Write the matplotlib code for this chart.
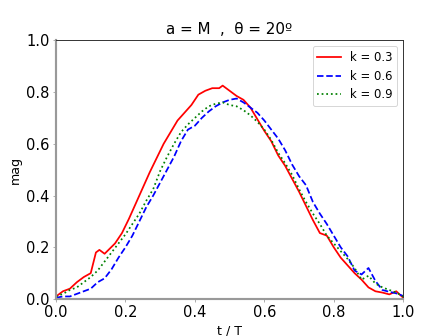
import matplotlib
matplotlib.use('Agg')
import matplotlib.pyplot as plt

# curves (t/T, mag)
t_k03 = [0.00, 0.02, 0.04, 0.06, 0.08, 0.10, 0.115, 0.125, 0.14, 0.155, 0.17,
         0.19, 0.21, 0.23, 0.25, 0.27, 0.29, 0.31, 0.33, 0.35, 0.37, 0.39,
         0.41, 0.43, 0.45, 0.47, 0.48, 0.50, 0.52, 0.54, 0.56, 0.58, 0.60,
         0.62, 0.64, 0.66, 0.68, 0.70, 0.72, 0.74, 0.76, 0.78, 0.80, 0.82,
         0.84, 0.86, 0.88, 0.90, 0.92, 0.94, 0.96, 0.98, 1.00]
mag_k03 = [0.010, 0.030, 0.040, 0.065, 0.085, 0.100, 0.180, 0.190, 0.175, 0.195, 0.215,
           0.255, 0.310, 0.370, 0.430, 0.490, 0.545, 0.600, 0.645, 0.690, 0.720, 0.750,
           0.790, 0.805, 0.815, 0.815, 0.825, 0.805, 0.785, 0.770, 0.740, 0.695, 0.650,
           0.610, 0.555, 0.515, 0.465, 0.415, 0.360, 0.305, 0.255, 0.245, 0.200, 0.160,
           0.130, 0.100, 0.075, 0.045, 0.030, 0.025, 0.018, 0.030, 0.005]

t_k06 = [0.00, 0.02, 0.04, 0.06, 0.08, 0.10, 0.12, 0.14, 0.16, 0.18, 0.20,
         0.22, 0.24, 0.26, 0.28, 0.30, 0.32, 0.34, 0.36, 0.38, 0.40, 0.42,
         0.44, 0.46, 0.48, 0.50, 0.52, 0.54, 0.56, 0.58, 0.60, 0.62, 0.64,
         0.66, 0.68, 0.70, 0.72, 0.74, 0.76, 0.78, 0.80, 0.82, 0.84, 0.86,
         0.88, 0.90, 0.92, 0.94, 0.96, 0.98, 1.00]
mag_k06 = [0.005, 0.010, 0.010, 0.020, 0.030, 0.040, 0.065, 0.080, 0.115, 0.160, 0.200,
           0.245, 0.300, 0.355, 0.400, 0.450, 0.500, 0.550, 0.610, 0.655, 0.670, 0.700,
           0.725, 0.745, 0.760, 0.770, 0.775, 0.760, 0.740, 0.720, 0.690, 0.655, 0.620,
           0.575, 0.520, 0.475, 0.440, 0.375, 0.330, 0.290, 0.245, 0.200, 0.165, 0.110,
           0.095, 0.120, 0.070, 0.035, 0.028, 0.022, 0.012]

t_k09 = t_k06
mag_k09 = [0.010, 0.020, 0.035, 0.045, 0.065, 0.085, 0.110, 0.145, 0.180, 0.215, 0.250,
           0.290, 0.330, 0.380, 0.425, 0.495, 0.550, 0.600, 0.645, 0.675, 0.700, 0.725,
           0.745, 0.755, 0.760, 0.750, 0.745, 0.730, 0.710, 0.685, 0.655, 0.615, 0.565,
           0.525, 0.480, 0.425, 0.375, 0.330, 0.290, 0.245, 0.215, 0.185, 0.155, 0.120,
           0.075, 0.090, 0.060, 0.045, 0.035, 0.025, 0.010]

fig = plt.figure(figsize=(6.4, 4.8), dpi=70)
ax = fig.add_subplot(111)

ax.plot(t_k03, mag_k03, color='red', linestyle='-', lw=1.8, label='k = 0.3')
ax.plot(t_k06, mag_k06, color='blue', linestyle='--', lw=1.8, label='k = 0.6')
ax.plot(t_k09, mag_k09, color='green', linestyle=':', lw=1.8, label='k = 0.9')

ax.set_xlim(0, 1)
ax.set_ylim(0, 1)
ax.set_title('a = M  ,  θ = 20º', fontsize=15.5)
ax.set_xlabel('t / T', fontsize=13)
ax.set_ylabel('mag', fontsize=13)
ax.tick_params(labelsize=15, labelcolor='black', color='#999999', length=3)

# left/bottom spines light grey and thick, top/right dark and thin
ax.spines['left'].set_color('#999999')
ax.spines['bottom'].set_color('#999999')
ax.spines['left'].set_linewidth(2.2)
ax.spines['bottom'].set_linewidth(2.2)
ax.spines['top'].set_color('#333333')
ax.spines['right'].set_color('#333333')
ax.spines['top'].set_linewidth(1.0)
ax.spines['right'].set_linewidth(1.0)

ax.legend(loc='upper right', fontsize=12)

fig.savefig('out.png', dpi=70)
